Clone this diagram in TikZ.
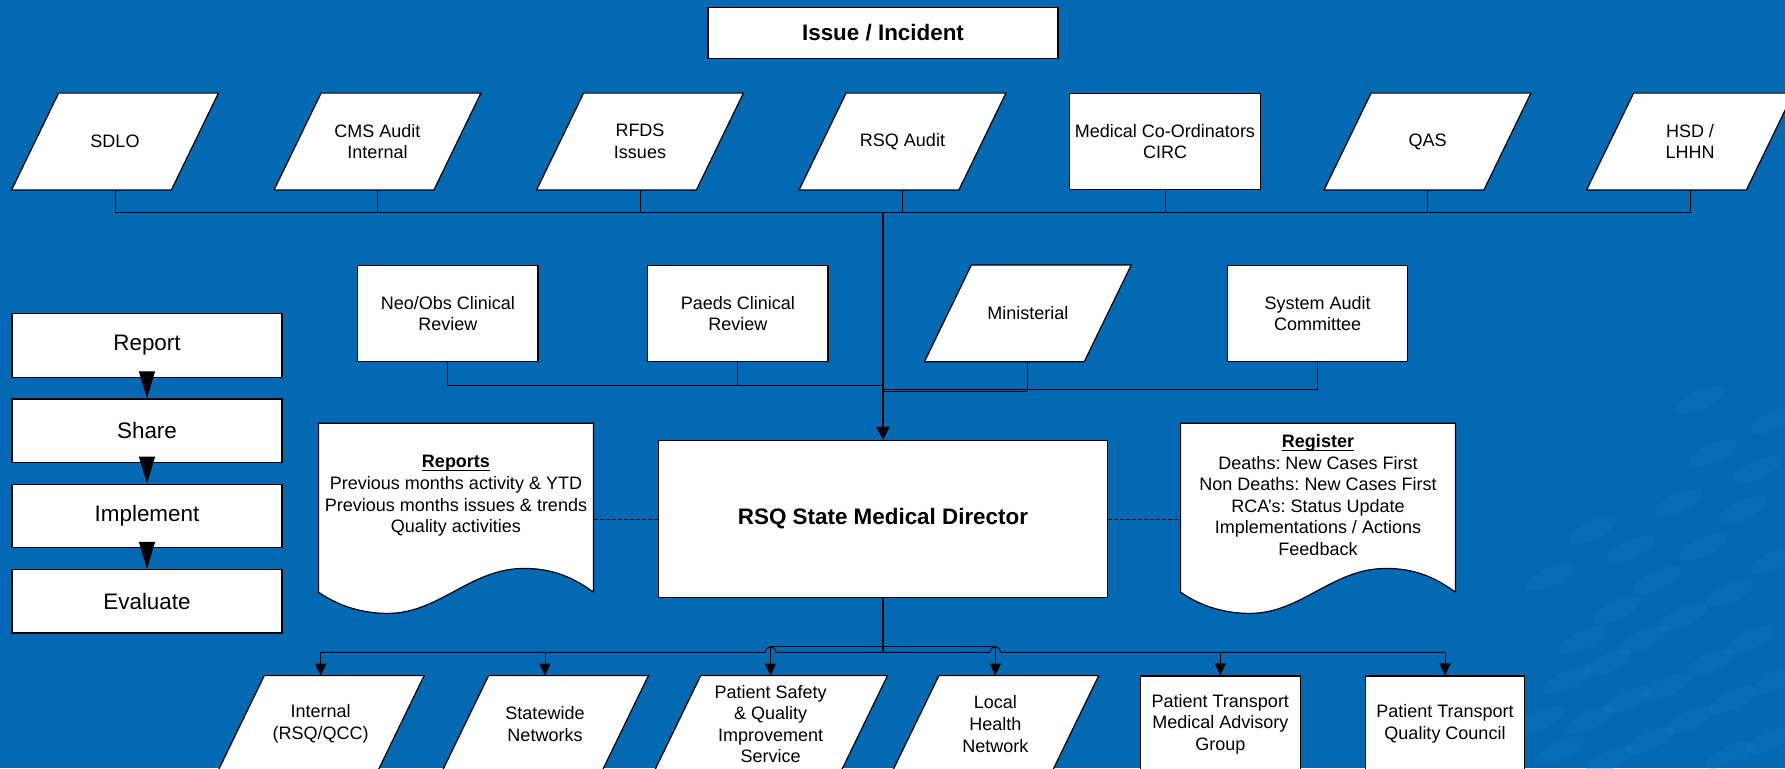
\documentclass[tikz,border=0pt]{standalone}
\usepackage{fontspec}
\setmainfont{Liberation Sans}
\usepackage{tikz}
\usetikzlibrary{positioning, arrows.meta, calc}
\pgfdeclarelayer{background}
\pgfsetlayers{background,main}
\definecolor{slideblue}{RGB}{2,105,178}
\definecolor{slidespeck}{RGB}{20,124,194}
\frenchspacing
\newcommand{\BodyFont}{\fontsize{9}{10.8}\selectfont}
\newcommand{\HeadFont}{\fontsize{11.2}{13.4}\selectfont}
\newcommand{\Heading}[1]{\underline{\smash{\textbf{#1}}}\vphantom{\textbf{#1}}}
\newcommand{\DocShape}[1]{%
  \draw[docline] (#1.south west) -- (#1.north west) -- (#1.north east) -- (#1.south east)
    .. controls +(-18,-13) and +(31,0) .. ($(#1.south west)+(205.5,-23.7)$)
    .. controls +(-54,0) and +(52,0) .. ($(#1.south west)+(69,21.3)$)
    .. controls +(-23,0) and +(21,15) .. (#1.south west) -- cycle;}
\newcommand{\ParaShape}[1]{%
  \draw[docline] ([xshift=-11.75pt]#1.south west) -- ([xshift=-11.75pt]#1.south east)
    -- ([xshift=11.75pt]#1.north east) -- ([xshift=11.75pt]#1.north west) -- cycle;}
\tikzset{
    box/.style={draw=black, line width=0.6pt, fill=white, align=center, font=\BodyFont, inner sep=1pt},
    rbox/.style={box, rectangle, minimum width=90.2pt, minimum height=47.7pt},
    para/.style={rectangle, align=center, font=\BodyFont, inner sep=1pt, minimum width=79.5pt, minimum height=48pt},
    stepbox/.style={box, font=\HeadFont, minimum width=135pt, minimum height=31.75pt},
    docarea/.style={minimum width=137pt, minimum height=84pt, inner sep=0pt},
    docline/.style={draw=black, line width=0.6pt, fill=white},
    doctext/.style={align=center, font=\BodyFont},
    link/.style={draw=black, line width=0.5pt},
    trunk/.style={draw=black, line width=1pt},
    dashlink/.style={link, dash pattern=on 2pt off 1pt},
    downtip/.style={-{Triangle[width=5.5pt, length=6pt]}},
}
\begin{document}
\begin{tikzpicture}[x=0.5pt, y=-0.5pt, on grid]
    \useasboundingbox (0,0) rectangle (1785,768);
    \clip (0,0) rectangle (1785,768);

    \node[box, font=\HeadFont\bfseries, minimum width=175pt, minimum height=25.7pt] (issue) at (883,33) {Issue / Incident};

    % sources
    \node[para] (sdlo) at (115,141.5) {SDLO};
    \node[para, right=131.25pt of sdlo] (cms) {CMS Audit\\Internal};
    \node[para, right=131.25pt of cms] (rfds) {RFDS\\Issues};
    \node[para, right=131.25pt of rfds] (rsqaudit) {RSQ Audit};
    \node[rbox, right=131.25pt of rsqaudit, minimum width=95.75pt, minimum height=47.8pt] (medco) {Medical Co-Ordinators\\CIRC};
    \node[para, right=131.25pt of medco] (qas) {QAS};
    \node[para, right=131.25pt of qas] (hsd) {HSD /\\LHHN};

    % reviews
    \node[rbox] (neo) at (447.8,313.4) {Neo/Obs Clinical\\Review};
    \node[rbox, right=145pt of neo] (paeds) {Paeds Clinical\\Review};
    \node[para, right=145pt of paeds] (minist) {Ministerial};
    \node[rbox, right=144.9pt of minist] (sysaudit) {System Audit\\Committee};

    % cycle
    \node[stepbox] (report) at (147,345.4) {Report};
    \node[stepbox, below=42.65pt of report] (share) {Share};
    \node[stepbox, below=42.65pt of share] (implement) {Implement};
    \node[stepbox, below=42.65pt of implement] (evaluate) {Evaluate};

    \node[box, font=\HeadFont\bfseries, minimum width=224.5pt, minimum height=78.5pt] (smd) at (883,519) {RSQ State Medical Director};

    % documents
    \node[docarea] (reports) at (456,507.7) {};
    \node[docarea] (register) at (1318,507.7) {};
    \DocShape{reports}
    \DocShape{register}
    \node[doctext] (reportstext) at (456,496) {\Heading{Reports}\\Previous months activity \& YTD\\Previous months issues \& trends\\Quality activities};
    \node[doctext] (registertext) at (1318,495) {\Heading{Register}\\Deaths: New Cases First\\Non Deaths: New Cases First\\RCA’s: Status Update\\Implementations / Actions\\Feedback};

    % outputs
    \node[para] (internal) at (320.7,724) {Internal\\(RSQ/QCC)};
    \node[para, right=112.15pt of internal] (statewide) {Statewide\\Networks};
    \node[para, right=112.8pt of statewide, minimum width=93pt] (safety) {Patient Safety\\\& Quality\\Improvement\\Service};
    \node[para, right=112.35pt of safety] (local) {Local\\Health\\Network};
    \node[rbox, right=112.5pt of local, minimum width=80pt, minimum height=48pt] (ptmag) {Patient Transport\\Medical Advisory\\Group};
    \node[rbox, right=112.35pt of ptmag, minimum width=79.5pt, minimum height=48pt] (ptqc) {Patient Transport\\Quality Council};

    \begin{pgfonlayer}{background}
      \fill[slideblue] (0,0) rectangle (1785,768);
      \foreach \sx/\sy in {1757/470, 1713/453, 1678/503, 1630/550, 1593/530, 1550/577,
          1743/510, 1703/547, 1657/580, 1617/610, 1583/640, 1730/593, 1683/617,
          1643/640, 1607/663, 1567/680, 1750/640, 1710/663, 1667/687, 1627/700,
          1590/720, 1777/680, 1733/700, 1690/720, 1650/740, 1610/760, 1770/740,
          1730/755, 1540/720, 1560/750, 1775/560, 1775/420, 1700/400}
        \fill[slidespeck, opacity=0.3] (\sx,\sy) ellipse [x radius=13pt, y radius=4.5pt, rotate=25];
      \foreach \n in {sdlo, cms, rfds, rsqaudit, qas, hsd, minist, internal, statewide, safety, local}
        {\ParaShape{\n}}
    \end{pgfonlayer}

    % top bus
    \coordinate (topbus) at (883,212.5);
    \draw[link] (sdlo |- topbus) -- (hsd |- topbus);
    \draw[link] (sdlo.south) edge (sdlo |- topbus)
        (cms.south) edge (cms |- topbus)
        (rfds.south) edge (rfds |- topbus)
        (rsqaudit.south) edge (rsqaudit |- topbus)
        (medco.south) edge (medco |- topbus)
        (qas.south) edge (qas |- topbus)
        (hsd.south) edge (hsd |- topbus);
    \draw[trunk, -{Triangle[width=6.5pt, length=6.5pt]}] (topbus) -- (smd.north);

    % review bus
    \coordinate (neobus) at (883,385);
    \coordinate (auditbus) at (883,389.3);
    \coordinate (ministbus) at (883,391.3);
    \draw[link] (neo.south) |- (neobus);
    \draw[link] (paeds.south) -- (paeds |- neobus);
    \draw[link] (sysaudit.south) |- (auditbus);
    \draw[link] (minist.south) |- (ministbus);

    \draw[-{Triangle[width=8pt, length=13.5pt]}] (report) edge (share) (share) edge (implement) (implement) edge (evaluate);

    \draw[dashlink] (smd.west) -- (smd.west -| reports.east);
    \draw[dashlink] (smd.east) -- (smd.east -| register.west);

    % output bus
    \coordinate (lowbus) at (883,652.3);
    \coordinate (hopbus) at (883,646.3);
    \draw[trunk] (smd.south) -- (lowbus);
    \draw[link] (internal |- lowbus) -- ($(safety |- lowbus)+(-5.5,0)$) arc[start angle=180, end angle=0, radius=2.75pt]
        -- ($(local |- lowbus)+(-5.5,0)$) arc[start angle=180, end angle=0, radius=2.75pt] -- (ptqc |- lowbus);
    \draw[link] (safety |- hopbus) -- (local |- hopbus);
    \draw[link, downtip] (safety |- hopbus) -- (safety.north);
    \draw[link, downtip] (local |- hopbus) -- (local.north);
    \draw[link, downtip] (internal |- lowbus) -- (internal.north);
    \draw[link, downtip] (statewide |- lowbus) -- (statewide.north);
    \draw[link, downtip] (ptmag |- lowbus) -- (ptmag.north);
    \draw[link, downtip] (ptqc |- lowbus) -- (ptqc.north);
\end{tikzpicture}
\end{document}
